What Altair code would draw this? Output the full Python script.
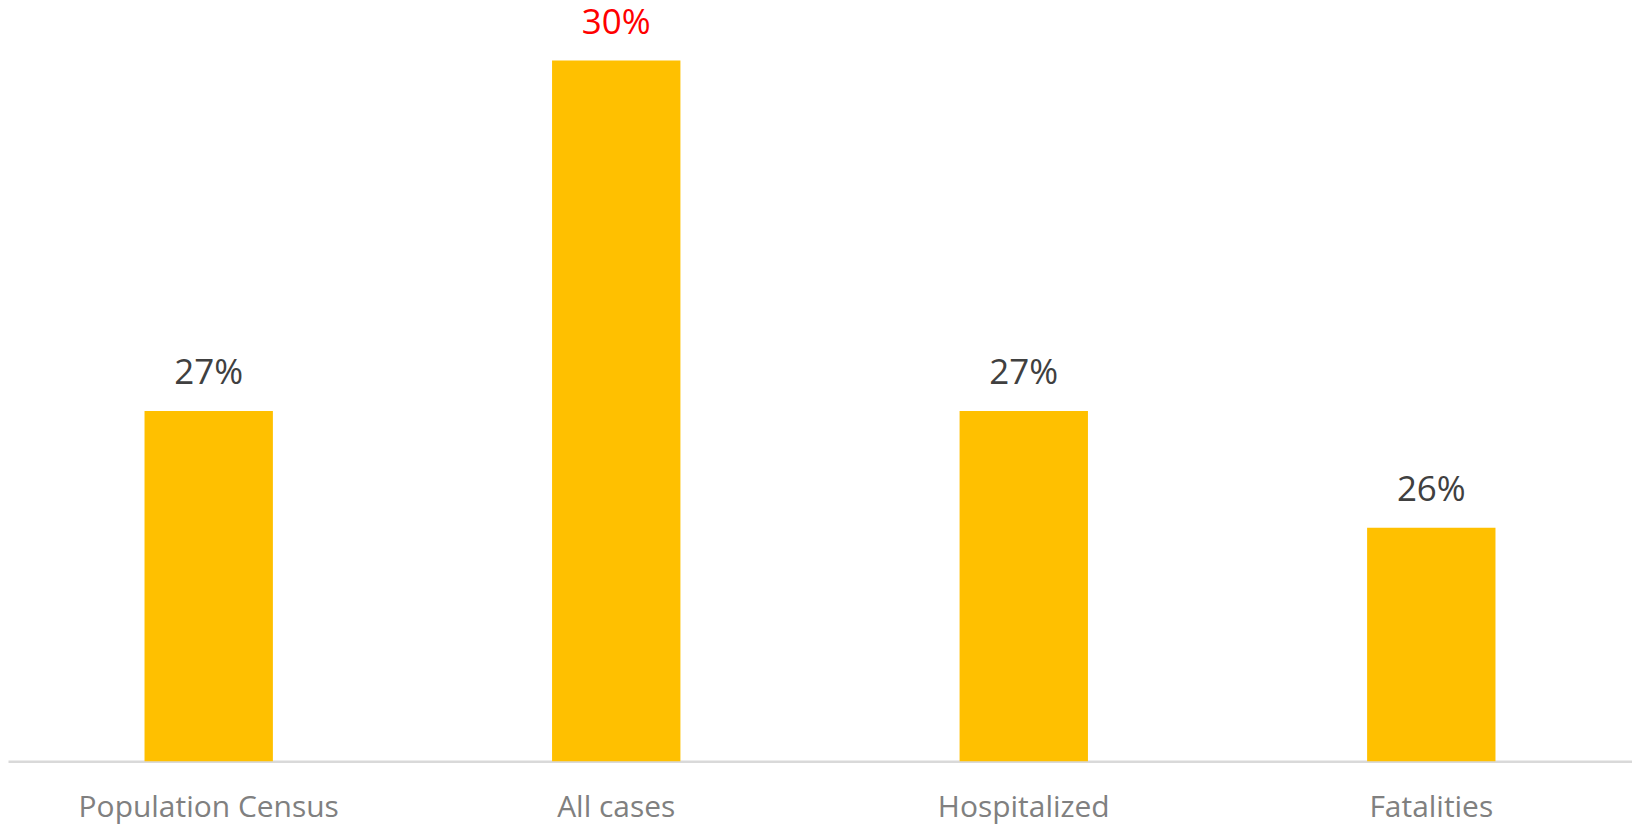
import altair as alt
import pandas as pd

categories = ["Population Census", "All cases", "Hospitalized", "Fatalities"]
values = [27, 30, 27, 26]
labels = ["27%", "30%", "27%", "26%"]
highlight = "All cases"

df = pd.DataFrame({"category": categories, "value": values, "label": labels})

FONT = "Open Sans"

x = alt.X(
    "category:N",
    sort=categories,
    title=None,
    scale=alt.Scale(paddingInner=0.685, paddingOuter=0.335),
    axis=alt.Axis(
        labelAngle=0,
        ticks=False,
        labelPadding=31,
        labelLimit=600,
        labelFont=FONT,
        labelFontSize=30,
        labelColor="#808080",
        domainColor="#D9D9D9",
        domainWidth=2.5,
    ),
)
y = alt.Y(
    "value:Q",
    title=None,
    scale=alt.Scale(domain=[24, 30.444], zero=False, clamp=True, nice=False),
    axis=None,
)

bars = alt.Chart(df).mark_bar(color="#FFC000").encode(x=x, y=y)

text = alt.Chart(df).mark_text(
    baseline="alphabetic", dy=-27, font=FONT, fontSize=35
).encode(
    x=alt.X("category:N", sort=categories),
    y=alt.Y("value:Q"),
    text="label:N",
    color=alt.condition(
        alt.datum.category == highlight, alt.value("#FF0000"), alt.value("#404040")
    ),
)

chart = (
    alt.layer(bars, text)
    .properties(
        width=1627,
        height=754,
        padding={"left": 0, "top": 0, "right": 0, "bottom": 64},
        autosize="none",
        view=alt.ViewBackground(strokeWidth=0, strokeOpacity=0),
    )
    .configure_view(strokeWidth=0, strokeOpacity=0)
)

chart.save("out.html", embed_options={"renderer": "svg", "actions": False})
